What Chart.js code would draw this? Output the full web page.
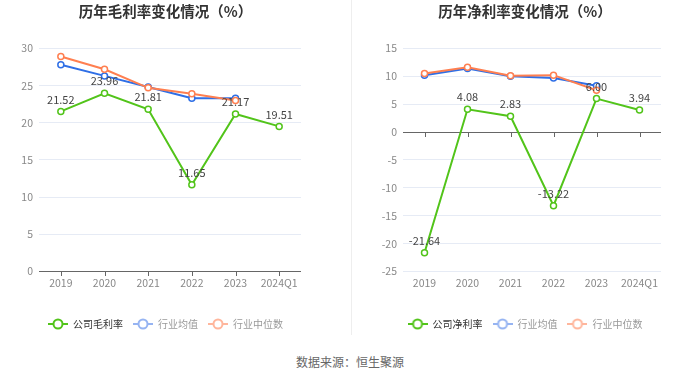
<!DOCTYPE html>
<html>
<head>
<meta charset="utf-8">
<script src="https://cdn.jsdelivr.net/npm/chart.js@4.4.0/dist/chart.umd.min.js"></script>
<style>
  html, body { margin: 0; padding: 0; background: #fff; }
  body { width: 700px; height: 378px; position: relative; overflow: hidden; font-family: 'Noto Sans CJK SC', 'Noto Sans', sans-serif; }
  .box { position: absolute; top: 0; width: 350px; height: 340px; }
  #leftBox { left: 0; }
  #rightBox { left: 350px; }
  #divider { position: absolute; left: 351px; top: 0; width: 1px; height: 335px; background: #eeeeee; }
  #source { position: absolute; left: 0; width: 700px; top: 353px; text-align: center; font-size: 12px; color: #666; }
</style>
</head>
<body>
<div class="box" id="leftBox"><canvas id="grossChart" width="350" height="340"></canvas></div>
<div id="divider"></div>
<div class="box" id="rightBox"><canvas id="netChart" width="350" height="340"></canvas></div>
<div id="source">数据来源：恒生聚源</div>
<script>
// data
const years = ['2019', '2020', '2021', '2022', '2023', '2024Q1'];
const grossCompany = [21.52, 23.96, 21.81, 11.65, 21.17, 19.51];
const grossAvg = [27.8, 26.3, 24.8, 23.3, 23.3, null];
const grossMedian = [28.9, 27.2, 24.7, 23.9, 23.0, null];
const netCompany = [-21.64, 4.08, 2.83, -13.22, 6.00, 3.94];
const netAvg = [10.2, 11.4, 10.0, 9.7, 8.3, null];
const netMedian = [10.5, 11.6, 10.1, 10.2, 7.5, null];

const green = '#52C41A';
const blue = '#2F6FE6';
const orange = '#FF7F50';

Chart.defaults.font.family = "'Noto Sans CJK SC', 'Noto Sans', sans-serif";
Chart.defaults.animation = false;

// legend icon: line with hollow circle
function legendIcon(color) {
  let c = document.createElement('canvas');
  c.width = 20; c.height = 12;
  let ctx = c.getContext('2d');
  ctx.strokeStyle = color;
  ctx.lineWidth = 2;
  ctx.beginPath();
  ctx.moveTo(0, 6); ctx.lineTo(20, 6);
  ctx.stroke();
  ctx.beginPath();
  ctx.arc(10, 6, 4.5, 0, Math.PI * 2);
  ctx.fillStyle = '#fff';
  ctx.fill();
  ctx.stroke();
  return c;
}

// zero line + tick marks
const zeroLinePlugin = {
  id: 'zeroLine',
  beforeDatasetsDraw(chart) {
    let ctx = chart.ctx, area = chart.chartArea;
    let y = Math.round(chart.scales.y.getPixelForValue(0));
    ctx.save();
    ctx.strokeStyle = '#666';
    ctx.lineWidth = 1;
    ctx.beginPath();
    ctx.moveTo(area.left, y + 0.5);
    ctx.lineTo(area.right, y + 0.5);
    years.forEach((v, i) => {
      let x = Math.round(chart.scales.x.getPixelForValue(i)) + 0.5;
      ctx.moveTo(x, y);
      ctx.lineTo(x, y + 5);
    });
    ctx.stroke();
    ctx.restore();
  }
};

// value labels for the company series
const valueLabelPlugin = {
  id: 'valueLabels',
  afterDatasetsDraw(chart) {
    let ctx = chart.ctx;
    let meta = chart.getDatasetMeta(0);
    let data = chart.data.datasets[0].data;
    ctx.save();
    ctx.font = "11px 'Noto Sans CJK SC', 'Noto Sans', sans-serif";
    ctx.fillStyle = '#444';
    ctx.textAlign = 'center';
    ctx.textBaseline = 'middle';
    meta.data.forEach((pt, i) => {
      ctx.fillText(data[i].toFixed(2), pt.x, pt.y - 12);
    });
    ctx.restore();
  }
};

function makeChart(id, title, companyName, company, avg, median, yMin, yMax, axisWidth, spacerWidth, padRight) {
  let ds = (label, data, color, order) => ({
    label: label,
    data: data,
    borderColor: color,
    backgroundColor: '#fff',
    borderWidth: 2,
    pointRadius: 3,
    pointBorderWidth: 1.5,
    pointBackgroundColor: '#fff',
    pointBorderColor: color,
    tension: 0,
    order: order
  });
  let legendItems = [
    { text: companyName, pointStyle: legendIcon(green), fontColor: '#333' },
    { text: '行业均值', pointStyle: legendIcon('#96B4F2'), fontColor: '#999' },
    { text: '行业中位数', pointStyle: legendIcon('#FFB69C'), fontColor: '#999' }
  ];
  return new Chart(document.getElementById(id), {
    type: 'line',
    data: {
      labels: years,
      datasets: [
        ds(companyName, company, green, 0),
        ds('行业均值', avg, blue, 2),
        ds('行业中位数', median, orange, 1)
      ]
    },
    options: {
      responsive: false,
      layout: { padding: { left: 0, right: padRight, top: 0, bottom: 1 } },
      plugins: {
        title: {
          display: true,
          text: title,
          color: '#333',
          font: { size: 14.5, weight: 'bold' },
          padding: { top: 3, bottom: 28 }
        },
        legend: {
          position: 'bottom',
          labels: {
            usePointStyle: true,
            pointStyleWidth: 20,
            font: { size: 10 },
            padding: 10,
            generateLabels: () => legendItems.map((it, i) => ({
              text: it.text,
              pointStyle: it.pointStyle,
              fontColor: it.fontColor,
              datasetIndex: i,
              hidden: false,
              lineWidth: 0
            }))
          }
        },
        tooltip: { enabled: false }
      },
      scales: {
        x: {
          offset: true,
          afterFit: (s) => { s.height += 15; },
          grid: { display: false, drawTicks: false },
          border: { display: false },
          ticks: { color: '#888', font: { size: 10.5 }, padding: 5 }
        },
        y: {
          min: yMin,
          max: yMax,
          afterFit: (s) => { s.width = axisWidth; },
          grid: { color: '#E6EBF5', drawTicks: false },
          border: { display: false },
          ticks: { stepSize: 5, color: '#888', font: { size: 10.5 }, padding: 6 }
        },
        spacer: {
          position: 'right',
          afterFit: (s) => { s.width = spacerWidth; },
          grid: { display: false, drawTicks: false },
          border: { display: false },
          ticks: { display: false }
        }
      }
    },
    plugins: [zeroLinePlugin, valueLabelPlugin]
  });
}

makeChart('grossChart', '历年毛利率变化情况（%）', '公司毛利率', grossCompany, grossAvg, grossMedian, 0, 30, 39, 30, 19);
makeChart('netChart', '历年净利率变化情况（%）', '公司净利率', netCompany, netAvg, netMedian, -25, 15, 53, 39, 0);
</script>
</body>
</html>
